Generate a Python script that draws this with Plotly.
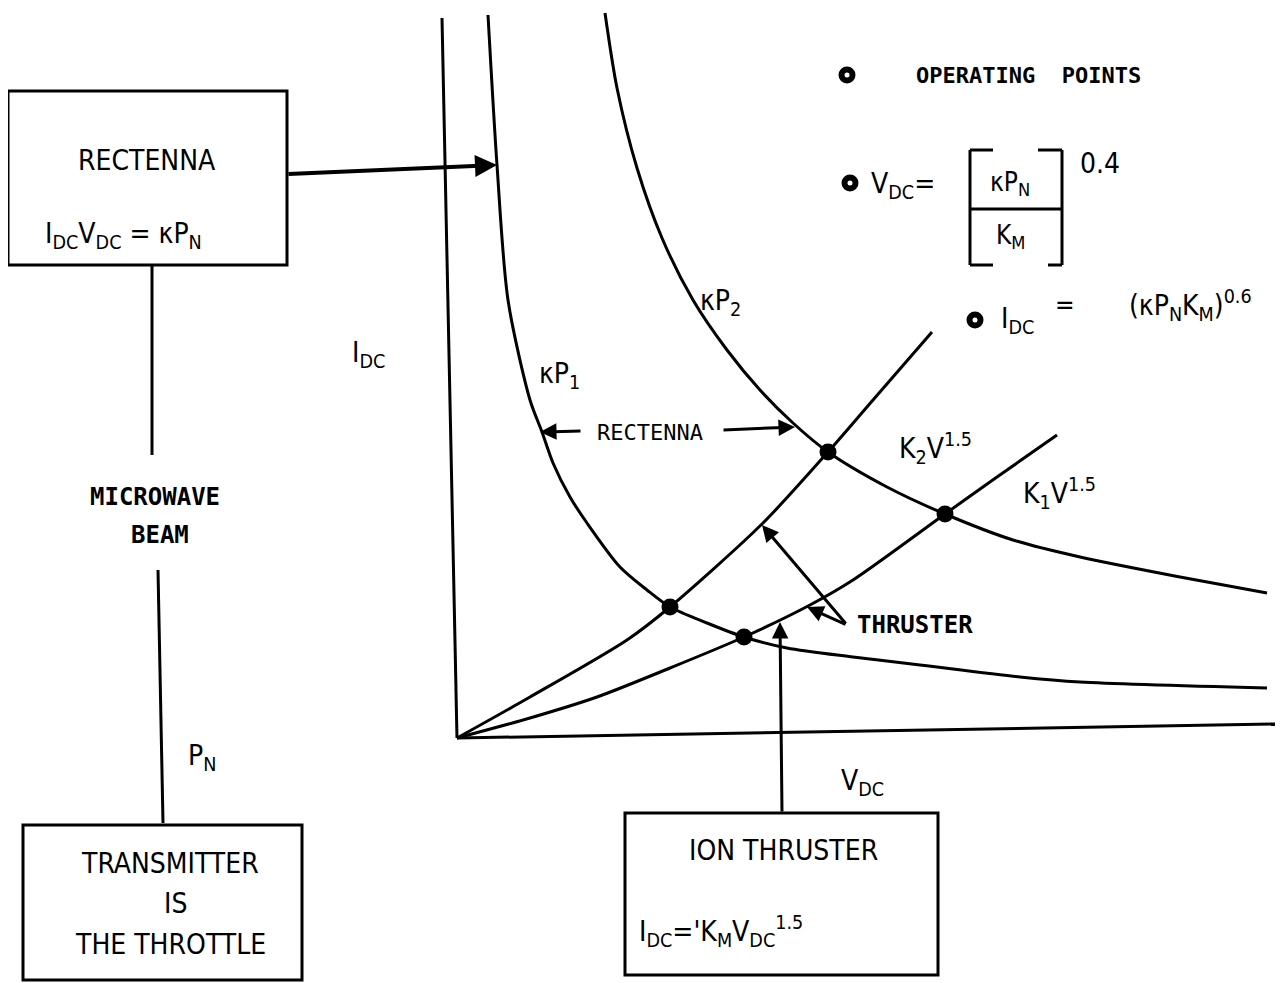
import plotly.graph_objects as go

kp1_v = [31, 40, 51, 73, 85, 96, 113, 130, 163, 190, 213, 250, 287, 330, 396, 463, 563, 623, 810]
kp1_i = [723, 573, 438, 338, 306, 275, 241, 215, 171, 148, 131, 115, 101, 90, 81, 73, 61, 56, 50]

kp2_v = [148, 160, 180, 205, 236, 270, 303, 336, 371, 430, 488, 556, 623, 723, 810]
kp2_i = [725, 650, 570, 500, 438, 388, 348, 315, 286, 251, 224, 198, 181, 161, 145]

k2_v = [0, 73, 170, 213, 306, 371, 416, 475]
k2_i = [0, 41, 98, 131, 215, 286, 338, 406]

k1_v = [0, 73, 140, 213, 287, 353, 396, 488, 540, 600]
k1_i = [0, 20, 41, 70, 101, 133, 158, 224, 261, 303]

# axis strokes (hand drawn, slightly tilted)
v_axis_v = [0, 818]
v_axis_i = [0, 14]
i_axis_v = [0, -15]
i_axis_i = [0, 720]

# operating points
op_v = [213, 287, 371, 488]
op_i = [131, 101, 286, 224]

# legend bullets
bullet_v = [390, 393, 518]
bullet_i = [663, 555, 418]

FONT = "Liberation Sans Narrow, DejaVu Sans Condensed, Roboto Condensed, Arial Narrow, sans-serif"
MONO = "DejaVu Sans Mono, Liberation Mono, monospace"

fig = go.Figure()

line_style = dict(color="black", width=3)
for vv, ii in [(kp1_v, kp1_i), (kp2_v, kp2_i), (k2_v, k2_i), (k1_v, k1_i)]:
    fig.add_trace(go.Scatter(x=vv, y=ii, mode="lines",
                             line=dict(color="black", width=3, shape="spline", smoothing=0.8),
                             hoverinfo="skip"))

fig.add_trace(go.Scatter(x=v_axis_v, y=v_axis_i, mode="lines", line=line_style, hoverinfo="skip"))
fig.add_trace(go.Scatter(x=i_axis_v, y=i_axis_i, mode="lines", line=line_style, hoverinfo="skip"))

fig.add_trace(go.Scatter(x=op_v, y=op_i, mode="markers", marker=dict(color="black", size=17), hoverinfo="skip"))
fig.add_trace(go.Scatter(x=bullet_v, y=bullet_i, mode="markers", marker=dict(color="black", size=17), hoverinfo="skip"))
fig.add_trace(go.Scatter(x=bullet_v, y=bullet_i, mode="markers", marker=dict(color="white", size=5), hoverinfo="skip"))

# boxes and connecting lines
shapes = []
box_line = dict(color="black", width=3)
for x0, y0, x1, y1 in [(-449, 473, -170, 647), (-434, -242, -155, -87), (168, -237, 481, -75)]:
    shapes.append(dict(type="rect", xref="x", yref="y", x0=x0, y0=y0, x1=x1, y1=y1, line=box_line))
for x0, y0, x1, y1 in [(-305, 473, -305, 283), (-299, 168, -294, -85),
                       (513, 473, 513, 588), (513, 588, 536, 588), (513, 473, 536, 473),
                       (605, 473, 605, 588), (581, 588, 605, 588), (591, 473, 605, 473),
                       (513, 529, 605, 529)]:
    shapes.append(dict(type="line", xref="x", yref="y", x0=x0, y0=y0, x1=x1, y1=y1,
                       line=dict(color="black", width=3)))

annotations = []


def arrow(x, y, ax, ay, width=3):
    annotations.append(dict(x=x, y=y, ax=ax, ay=ay, xref="x", yref="y", axref="x", ayref="y",
                            text="", showarrow=True, arrowhead=2, arrowsize=1.1, arrowwidth=width,
                            arrowcolor="black"))


arrow(40, 573, -170, 564, width=4)      # rectenna box -> kP1 curve
arrow(83, 306, 125, 307)                # RECTENNA label -> kP1
arrow(338, 311, 265, 308)               # RECTENNA label -> kP2
arrow(305, 213, 390, 113)               # THRUSTER -> K2
arrow(350, 131, 390, 113)               # THRUSTER -> K1
arrow(323, 116, 325, -75)               # ion thruster box -> K1


def label(x, y, text, size=26, family=FONT, xanchor="center", bold=False):
    if bold:
        text = "<b>" + text + "</b>"
    annotations.append(dict(x=x, y=y, xref="x", yref="y", text=text, showarrow=False,
                            xanchor=xanchor, yanchor="middle",
                            font=dict(family=family, size=size, color="black")))


label(-310, 578, "RECTENNA", size=28)
label(-334, 503, "I<sub>DC</sub>V<sub>DC</sub> = κP<sub>N</sub>", size=28)
label(-302, 241, "MICROWAVE", size=24, family=MONO, bold=True)
label(-297, 203, "BEAM", size=24, family=MONO, bold=True)
label(-255, -19, "P<sub>N</sub>", size=28)
label(-287, -125, "TRANSMITTER", size=28)
label(-282, -165, "IS", size=28)
label(-287, -206, "THE THROTTLE", size=28)
label(326, -112, "ION THRUSTER", size=28)
label(180, -193, "I<sub>DC</sub>='K<sub>M</sub>V<sub>DC</sub><sup>1.5</sup>", size=28, xanchor="left")
label(405, -44, "V<sub>DC</sub>", size=28)
label(-89, 384, "I<sub>DC</sub>", size=28)
label(102, 363, "κP<sub>1</sub>", size=28)
label(263, 436, "κP<sub>2</sub>", size=28)
label(193, 306, "RECTENNA", size=22, family=MONO)
label(478, 290, "K<sub>2</sub>V<sup>1.5</sup>", size=28)
label(602, 245, "K<sub>1</sub>V<sup>1.5</sup>", size=28)
label(458, 113, "THRUSTER", size=24, family=MONO, bold=True)
label(571, 663, "OPERATING  POINTS", size=22, family=MONO, bold=True)
label(446, 553, "V<sub>DC</sub>=", size=28)
label(553, 555, "κP<sub>N</sub>", size=26)
label(553, 502, "K<sub>M</sub>", size=26)
label(643, 575, "0.4", size=28)
label(560, 418, "I<sub>DC</sub>", size=28)
label(608, 433, "=", size=26)
label(733, 433, "(κP<sub>N</sub>K<sub>M</sub>)<sup>0.6</sup>", size=28)

# the page body has an 8px margin, so the figure is a bit smaller than the window
fig.update_layout(
    width=1277, height=975,
    margin=dict(l=0, r=0, t=0, b=0),
    paper_bgcolor="white", plot_bgcolor="white",
    showlegend=False,
    shapes=shapes,
    annotations=annotations,
    xaxis=dict(range=[-449, 828], visible=False, fixedrange=True),
    yaxis=dict(range=[-245, 730], visible=False, fixedrange=True),
)

fig.write_html("out.html", config={"displayModeBar": False})
